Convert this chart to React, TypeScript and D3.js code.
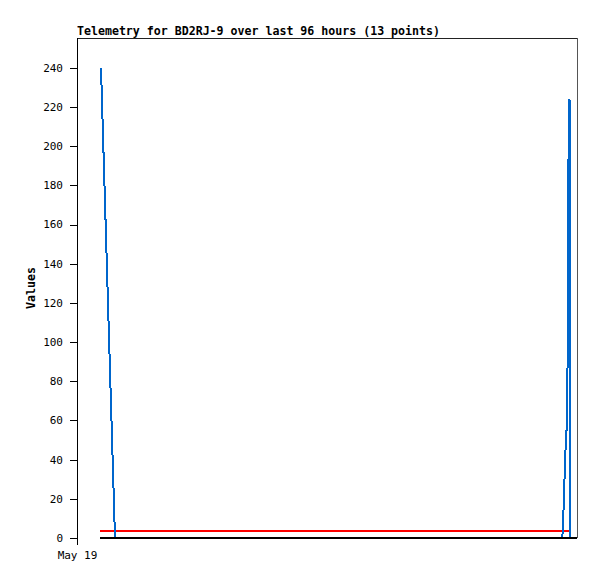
import React from "react";
import * as d3 from "d3";

const W = 597;
const H = 579;

// hours after May 19 00:00
const blueHours = [4.8, 7.6, 97.06, 97.26, 97.46, 97.6, 97.94, 98.2, 98.26, 98.4, 98.5, 98.66, 98.7];
const blueValues = [240, 0, 0, 10.7, 26, 40, 56.7, 104.7, 184, 216, 224, 216, 0];
const redHours = [4.6, 98.8];
const redValues = [3.6, 3.6];
const blackHours = [4.6, 100];
const blackValues = [0, 0];
const yTicks = [0, 20, 40, 60, 80, 100, 120, 140, 160, 180, 200, 220, 240];
const xTickLabels = ["May 19"];
const xTickHours = [0];

const title = "Telemetry for BD2RJ-9 over last 96 hours (13 points)";
const yLabel = "Values";

const start = new Date(2024, 4, 19, 0, 0, 0);
const toDate = (h: number) => new Date(start.getTime() + h * 3600 * 1000);

export default function App() {
  const left = 77, right = 577, top = 38, bottom = 538;
  const x = d3.scaleTime().domain([toDate(0), toDate(100)]).range([left, right]);
  const y = d3.scaleLinear().domain([0, 255.3]).range([bottom, top]);
  const line = d3
    .line<[number, number]>()
    .x((d) => x(toDate(d[0])))
    .y((d) => y(d[1]));
  const mk = (hs: number[], vs: number[]) => hs.map((h, i) => [h, vs[i]] as [number, number]);
  const mono = "'DejaVu Sans Mono', 'Liberation Mono', monospace";
  return (
    <svg
      width={W}
      height={H}
      style={{ position: "absolute", left: 0, top: 0, background: "#fff" }}
    >
      <rect x={0} y={0} width={W} height={H} fill="#fff" />
      <text x={left} y={35} fontFamily={mono} fontWeight="bold" fontSize={11.6} fill="#000">
        {title}
      </text>
      {/* frame */}
      <line x1={left} x2={right} y1={top + 0.5} y2={top + 0.5} stroke="#222" strokeWidth={1} />
      <line x1={right + 0.5} x2={right + 0.5} y1={top} y2={bottom} stroke="#555" strokeWidth={1} />
      <line x1={left + 0.5} x2={left + 0.5} y1={top} y2={bottom + 7} stroke="#000" strokeWidth={1} />
      {yTicks.map((t) => (
        <g key={t}>
          <line x1={left - 7} x2={left} y1={Math.round(y(t)) + 0.5} y2={Math.round(y(t)) + 0.5} stroke="#000" />
          <text
            x={63}
            y={y(t)}
            dy="0.35em"
            textAnchor="end"
            fontFamily={mono}
            fontSize={11}
            fill="#000"
          >
            {t}
          </text>
        </g>
      ))}
      {xTickHours.map((h, i) => (
        <g key={h}>
          <line x1={x(toDate(h)) + 0.5} x2={x(toDate(h)) + 0.5} y1={bottom} y2={bottom + 7} stroke="#000" />
          <text
            x={x(toDate(h)) + 0.5}
            y={559}
            textAnchor="middle"
            fontFamily={mono}
            fontSize={11}
            fill="#000"
          >
            {xTickLabels[i]}
          </text>
        </g>
      ))}
      <text
        transform={`translate(35, ${(top + bottom) / 2}) rotate(-90)`}
        textAnchor="middle"
        fontFamily={mono}
        fontWeight="bold"
        fontSize={11.6}
        fill="#000"
      >
        {yLabel}
      </text>
      <path d={line(mk(redHours, redValues)) || ""} fill="none" stroke="#ff0000" strokeWidth={2.5} shapeRendering="crispEdges" />
      <path d={line(mk(blueHours, blueValues)) || ""} fill="none" stroke="#0066cc" strokeWidth={2} shapeRendering="crispEdges" />
      <path d={line(mk(blackHours, blackValues)) || ""} fill="none" stroke="#000" strokeWidth={2} shapeRendering="crispEdges" />
    </svg>
  );
}
